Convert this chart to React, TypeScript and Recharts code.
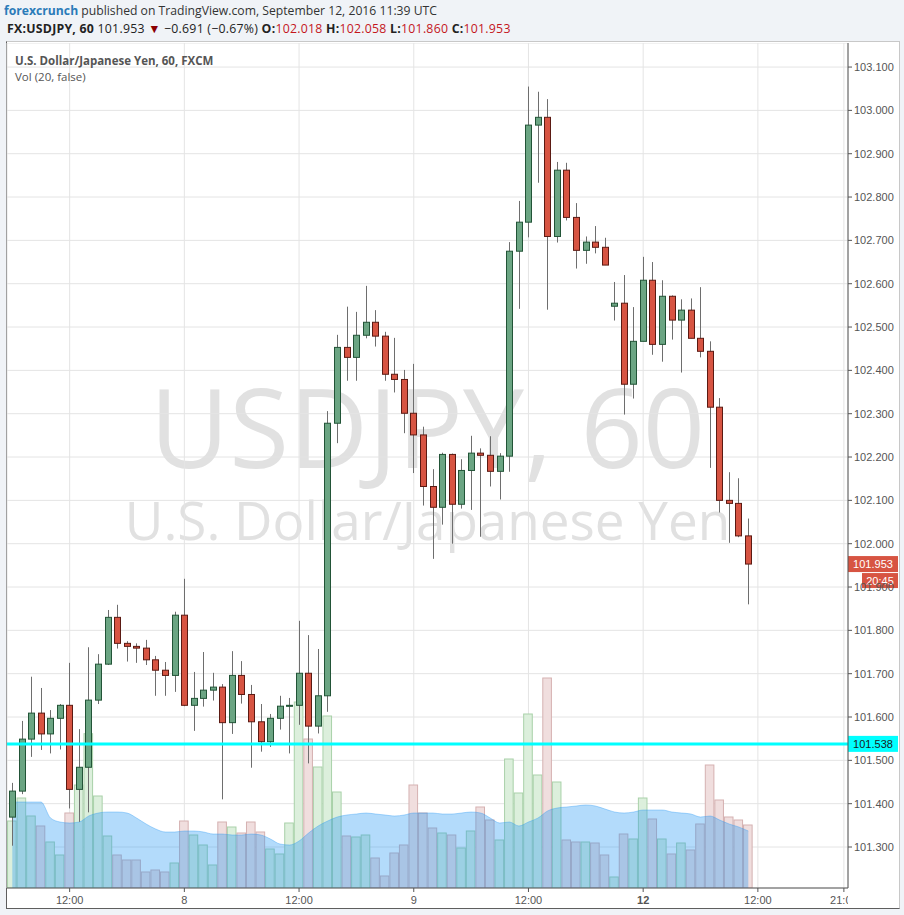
import React from 'react';
import { ComposedChart, Bar, Area, XAxis, YAxis, CartesianGrid, ReferenceLine } from 'recharts';

// USDJPY, 1h candles, Sep 7 06:00 UTC -> Sep 12 11:00 UTC (weekend hours skipped)
const opens = [
  101.369, 101.429, 101.549, 101.609, 101.561, 101.597, 101.627, 101.433, 101.484, 101.639,
  101.722, 101.830, 101.770, 101.763, 101.759, 101.732, 101.708, 101.696, 101.835, 101.627,
  101.643, 101.662, 101.669, 101.587, 101.696, 101.652, 101.589, 101.543, 101.597, 101.625,
  101.627, 101.701, 101.579, 101.649, 102.278, 102.453, 102.430, 102.481, 102.511, 102.479,
  102.391, 102.379, 102.301, 102.251, 102.132, 102.084, 102.206, 102.091, 102.169, 102.209,
  102.204, 102.167, 102.202, 102.675, 102.742, 102.966, 102.984, 102.709, 102.862, 102.753,
  102.677, 102.696, 102.684, 102.548, 102.555, 102.368, 102.467, 102.608, 102.460, 102.571,
  102.516, 102.539, 102.474, 102.444, 102.315, 102.100, 102.093, 102.018,
];
const highs = [
  101.448, 101.591, 101.693, 101.667, 101.616, 101.630, 101.725, 101.572, 101.761, 101.745,
  101.847, 101.859, 101.775, 101.770, 101.778, 101.741, 101.727, 101.843, 101.919, 101.704,
  101.750, 101.702, 101.676, 101.752, 101.729, 101.674, 101.630, 101.607, 101.649, 101.644,
  101.822, 101.789, 101.757, 102.306, 102.482, 102.547, 102.535, 102.595, 102.539, 102.489,
  102.475, 102.401, 102.415, 102.270, 102.172, 102.210, 102.208, 102.195, 102.249, 102.220,
  102.248, 102.209, 102.696, 102.791, 103.055, 103.043, 103.026, 102.881, 102.879, 102.786,
  102.709, 102.733, 102.706, 102.604, 102.620, 102.546, 102.662, 102.650, 102.608, 102.573,
  102.564, 102.566, 102.592, 102.467, 102.336, 102.165, 102.151, 102.058,
];
const lows = [
  101.303, 101.422, 101.508, 101.524, 101.516, 101.525, 101.389, 101.358, 101.380, 101.630,
  101.720, 101.758, 101.728, 101.725, 101.720, 101.649, 101.649, 101.658, 101.625, 101.568,
  101.624, 101.638, 101.410, 101.561, 101.631, 101.483, 101.520, 101.531, 101.571, 101.516,
  101.582, 101.493, 101.562, 101.612, 102.232, 102.376, 102.376, 102.474, 102.455, 102.376,
  102.349, 102.255, 102.163, 102.088, 101.965, 102.044, 102.000, 102.081, 102.078, 102.016,
  102.132, 102.102, 102.166, 102.542, 102.707, 102.833, 102.540, 102.695, 102.746, 102.635,
  102.646, 102.670, 102.643, 102.515, 102.298, 102.335, 102.467, 102.436, 102.420, 102.471,
  102.395, 102.474, 102.430, 102.175, 102.072, 102.002, 102.015, 101.860,
];
const closes = [
  101.429, 101.549, 101.609, 101.561, 101.597, 101.627, 101.433, 101.484, 101.639, 101.722,
  101.830, 101.770, 101.763, 101.759, 101.732, 101.708, 101.696, 101.835, 101.627, 101.643,
  101.662, 101.669, 101.587, 101.696, 101.652, 101.589, 101.543, 101.597, 101.625, 101.627,
  101.701, 101.579, 101.649, 102.278, 102.453, 102.430, 102.481, 102.511, 102.479, 102.391,
  102.379, 102.301, 102.251, 102.132, 102.084, 102.206, 102.091, 102.169, 102.209, 102.204,
  102.167, 102.202, 102.675, 102.742, 102.966, 102.984, 102.709, 102.862, 102.753, 102.677,
  102.696, 102.684, 102.643, 102.555, 102.368, 102.467, 102.608, 102.460, 102.571, 102.516,
  102.539, 102.474, 102.444, 102.315, 102.100, 102.093, 102.018, 101.953,
];
const volumes = [
  670, 900, 720, 620, 460, 330, 750, 1030, 1543, 920,
  520, 330, 280, 280, 160, 180, 160, 250, 670, 530,
  430, 230, 660, 610, 550, 660, 560, 390, 340, 650,
  1860, 1490, 1210, 1720, 960, 520, 510, 530, 300, 120,
  350, 430, 1030, 750, 600, 550, 530, 400, 570, 810,
  680, 480, 1290, 950, 1740, 1130, 2100, 1060, 480, 460,
  460, 450, 330, 110, 540, 490, 900, 690, 490, 340,
  450, 380, 640, 1230, 880, 710, 680, 630,
];
const volMA = [
  860, 860, 860, 860, 700, 660, 650, 660, 720, 750,
  760, 760, 750, 700, 640, 590, 560, 560, 570, 570,
  560, 540, 540, 530, 530, 540, 530, 490, 440, 430,
  470, 550, 620, 670, 710, 730, 740, 750, 740, 730,
  720, 730, 750, 750, 750, 740, 740, 750, 760, 750,
  700, 650, 660, 620, 660, 700, 770, 800, 810, 820,
  830, 820, 790, 760, 750, 760, 780, 780, 780, 760,
  750, 740, 710, 720, 680, 640, 610, 570,
];

const timeTicks = [6, 18, 30, 42, 54, 66, 78, 87];
const timeLabels = ['12:00', '8', '12:00', '9', '12:00', '12', '12:00', '21:00'];
const boldLabels = ['12'];
const priceTicks = [
  101.3, 101.4, 101.5, 101.6, 101.7, 101.8, 101.9, 102.0, 102.1, 102.2,
  102.3, 102.4, 102.5, 102.6, 102.7, 102.8, 102.9, 103.0, 103.1,
];
const lastPrice = 101.953;
const countdown = '20:45';
const lineLevel = 101.538;

const X_DOMAIN: [number, number] = [-0.5545, 87.43];
const PRICE_DOMAIN: [number, number] = [101.2054, 103.1555];
const VOL_DOMAIN: [number, number] = [0, 8450];

const data = opens.map((o, i) => ({
  i,
  open: o,
  high: highs[i],
  low: lows[i],
  close: closes[i],
  vol: volumes[i],
  ma: volMA[i],
}));

const UP = '#6ba583';
const UP_EDGE = '#225437';
const DOWN = '#d75442';
const DOWN_EDGE = '#5b1a13';
const AXIS_FONT = '"Liberation Sans", Arial, sans-serif';
const UI_FONT = '"Open Sans", "Noto Sans", sans-serif';

const Candle = (props: any) => {
  const { x, y, width, height, payload } = props;
  const { open, close, high, low } = payload;
  const top = Math.min(y, y + height);
  const h = Math.abs(height);
  const toY = (v: number) => (high === low ? top : top + ((high - v) / (high - low)) * h);
  const cx = Math.round(x + width / 2) + 0.5;
  const bTop = toY(Math.max(open, close));
  const bBot = toY(Math.min(open, close));
  const up = close >= open;
  return (
    <g>
      <line x1={cx} x2={cx} y1={top} y2={top + h} stroke="#6e6e6e" strokeWidth={1} />
      <rect
        x={cx - 3}
        y={bTop}
        width={6}
        height={Math.max(bBot - bTop, 1)}
        fill={up ? UP : DOWN}
        stroke={up ? UP_EDGE : DOWN_EDGE}
        strokeWidth={1}
      />
    </g>
  );
};

const VolumeBar = (props: any) => {
  const { x, y, width, height, payload } = props;
  const up = payload.close >= payload.open;
  return (
    <rect
      x={x}
      y={y}
      width={width}
      height={height}
      fill={up ? '#dcefdc' : '#f0dede'}
      stroke={up ? '#a9d1a9' : '#d5b1b1'}
      strokeWidth={1}
    />
  );
};

const TimeTick = (props: any) => {
  const { x, y, payload, width } = props;
  const k = timeTicks.indexOf(payload.value);
  const label = timeLabels[k] ?? '';
  const bold = boldLabels.includes(label);
  const txt = (tx: number) => (
    <text x={tx} y={0} dy={10} textAnchor="middle" fontSize={11} fontFamily={AXIS_FONT}
      fontWeight={bold ? 700 : 400} fill="#555">
      {label}
    </text>
  );
  if (k === timeTicks.length - 1 && width) {
    const right = x + ((X_DOMAIN[1] - payload.value) * width) / (X_DOMAIN[1] - X_DOMAIN[0]);
    return (
      <svg x={x - 30} y={y} width={right - (x - 30)} height={20} overflow="hidden">
        {txt(30)}
      </svg>
    );
  }
  return <g transform={`translate(0,${y})`}>{txt(x)}</g>;
};

const PriceTag = (props: any) => {
  const { viewBox, text, fill, color, sub } = props;
  const x = viewBox.x + viewBox.width;
  const y = viewBox.y;
  return (
    <g>
      <rect x={x} y={y - 8} width={50} height={16} fill={fill} />
      <text x={x + 25} y={y} dy={4} textAnchor="middle" fontSize={11} fontFamily={AXIS_FONT} fill={color}>
        {text}
      </text>
      {sub && (
        <g>
          <rect x={x + 14} y={y + 9} width={36} height={15} fill={fill} />
          <text x={x + 32} y={y + 16.5} dy={4} textAnchor="middle" fontSize={11} fontFamily={AXIS_FONT} fill={color}>
            {sub}
          </text>
        </g>
      )}
    </g>
  );
};

const red = { color: '#c4161c' };

export default function App() {
  return (
    <div style={{ position: 'absolute', left: 0, top: 0, width: 904, height: 915, background: '#f0f3f7', overflow: 'hidden', fontFamily: UI_FONT }}>
      <div style={{ position: 'absolute', left: 4, top: 3, fontSize: 12.2, lineHeight: '16px', color: '#333', whiteSpace: 'nowrap' }}>
        <span style={{ color: '#2b7bb9', fontWeight: 700 }}>forexcrunch</span> published on TradingView.com, September 12, 2016 11:39 UTC
      </div>
      <div style={{ position: 'absolute', left: 7, top: 21, fontSize: 12.3, letterSpacing: 0.25, lineHeight: '16px', color: '#222', whiteSpace: 'nowrap' }}>
        <b>FX:USDJPY, 60</b> 101.953 <span style={{ color: '#8b0000' }}>▼</span> −0.691 (−0.67%){' '}
        <b>O:</b><span style={red}>102.018</span> <b>H:</b><span style={red}>102.058</span>{' '}
        <b>L:</b><span style={red}>101.860</span> <b>C:</b><span style={red}>101.953</span>
      </div>

      <div style={{ position: 'absolute', left: 6, top: 41, width: 894, height: 868, boxSizing: 'border-box', background: '#fff',
        borderLeft: '1px solid #5e5e5e', borderBottom: '1px solid #5e5e5e', borderTop: '1px solid #c8c8c8', borderRight: '1px solid #c8c8c8' }} />

      <div style={{ position: 'absolute', left: 7, width: 841, top: 376, textAlign: 'center', fontSize: 109, lineHeight: '100px', color: '#e1e1e1', whiteSpace: 'nowrap' }}>
        USDJPY, 60
      </div>
      <div style={{ position: 'absolute', left: 7, width: 841, top: 496, textAlign: 'center', fontSize: 53, lineHeight: '48px', color: '#e1e1e1', whiteSpace: 'nowrap' }}>
        U.S. Dollar/Japanese Yen
      </div>

      <div style={{ position: 'absolute', left: 0, top: 43 }}>
        <ComposedChart width={904} height={865} data={data} margin={{ top: 0, right: 0, bottom: 0, left: 7 }}>
          <CartesianGrid yAxisId="price" stroke="#e4e4e4" />
          <XAxis
            dataKey="i"
            type="number"
            domain={X_DOMAIN}
            allowDataOverflow
            ticks={timeTicks}
            interval={0}
            height={20}
            tickSize={4}
            axisLine={{ stroke: '#555' }}
            tickLine={{ stroke: '#555' }}
            tick={<TimeTick />}
          />
          <XAxis xAxisId="vx" dataKey="i" type="number" domain={X_DOMAIN} allowDataOverflow hide />
          <YAxis
            yAxisId="price"
            orientation="right"
            width={56}
            domain={PRICE_DOMAIN}
            allowDataOverflow
            ticks={priceTicks}
            interval={0}
            tickFormatter={(v: number) => v.toFixed(3)}
            tick={{ fill: '#555', fontSize: 11, fontFamily: AXIS_FONT }}
            tickSize={4}
            tickMargin={2}
            axisLine={{ stroke: '#555' }}
            tickLine={{ stroke: '#555' }}
          />
          <YAxis yAxisId="vol" domain={VOL_DOMAIN} allowDataOverflow hide />

          <Bar xAxisId="vx" yAxisId="vol" dataKey="vol" barSize={10} shape={<VolumeBar />} zIndex={300} isAnimationActive={false} />
          <Area
            xAxisId="vx"
            yAxisId="vol"
            dataKey="ma"
            type="monotone"
            fill="#2196f3"
            fillOpacity={0.34}
            stroke="#2196f3"
            strokeOpacity={0.35}
            dot={false}
            activeDot={false}
            zIndex={350}
            isAnimationActive={false}
          />
          <Bar
            yAxisId="price"
            dataKey={(d: any) => [d.low, d.high]}
            barSize={7}
            shape={<Candle />}
            zIndex={400}
            isAnimationActive={false}
          />
          <ReferenceLine
            yAxisId="price"
            y={lineLevel}
            stroke="#00ffff"
            strokeWidth={3}
            zIndex={450}
            label={(p: any) => <PriceTag {...p} text={lineLevel.toFixed(3)} fill="#00ffff" color="#1a1a1a" />}
          />
          <ReferenceLine
            yAxisId="price"
            y={lastPrice}
            stroke="none"
            zIndex={450}
            label={(p: any) => <PriceTag {...p} text={lastPrice.toFixed(3)} sub={countdown} fill="#d75442" color="#fff" />}
          />
        </ComposedChart>
      </div>

      <div style={{ position: 'absolute', left: 15, top: 53, fontSize: 11.5, lineHeight: '16px', color: '#555', fontWeight: 700, whiteSpace: 'nowrap' }}>
        U.S. Dollar/Japanese Yen, 60, FXCM
      </div>
      <div style={{ position: 'absolute', left: 15, top: 69, fontSize: 11.5, lineHeight: '16px', color: '#555', whiteSpace: 'nowrap' }}>
        Vol (20, false)
      </div>
    </div>
  );
}
